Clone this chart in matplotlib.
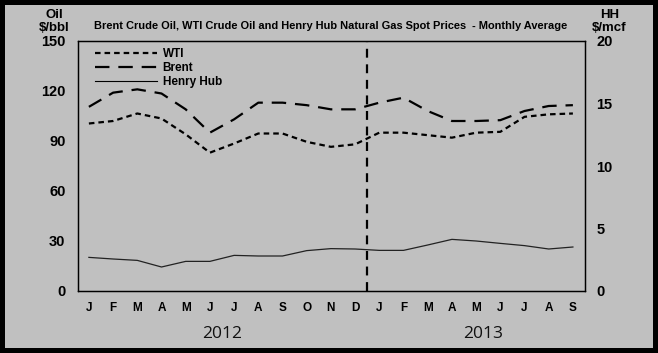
import numpy as np
import matplotlib
matplotlib.use("Agg")
import matplotlib.pyplot as plt
from matplotlib.patches import Rectangle

plt.rcParams['font.family'] = ['Liberation Sans', 'DejaVu Sans']

# Data (monthly averages, Jan 2012 - Sep 2013)
months = ['J', 'F', 'M', 'A', 'M', 'J', 'J', 'A', 'S', 'O', 'N', 'D',
          'J', 'F', 'M', 'A', 'M', 'J', 'J', 'A', 'S']
wti = [100.5, 102, 106.5, 103.5, 94, 83, 88.5, 94.5, 94.5, 89.5, 86.5, 88,
       95, 95, 93.5, 92, 95, 95.5, 104.5, 106, 106.5]
brent = [110.5, 119, 121, 118.5, 109, 95, 103, 113, 113, 111.5, 109, 109,
         113, 116, 108, 102, 102, 102.5, 108, 111, 111.5]
henry_hub = [2.69, 2.56, 2.45, 1.92, 2.37, 2.37, 2.85, 2.8, 2.8, 3.23, 3.39, 3.36,
             3.25, 3.25, 3.68, 4.13, 4.0, 3.81, 3.63, 3.36, 3.52]
years = ['2012', '2013']
oil_ticks = [0, 30, 60, 90, 120, 150]
hh_ticks = [0, 5, 10, 15, 20]

bg = '#c0c0c0'
W, H = 658, 353
fig = plt.figure(figsize=(W / 100, H / 100), dpi=100, facecolor='black')
# grey panel inside the black frame
fig.add_artist(Rectangle((5 / W, 5 / H), 1 - 10 / W, 1 - 10 / H,
                         transform=fig.transFigure, facecolor=bg,
                         edgecolor='none', zorder=-10))

ax = fig.add_axes([78 / W, 62 / H, 507 / W, 250 / H], facecolor=bg)
ax2 = ax.twinx()

x = np.arange(len(months))
ax.plot(x, wti, color='black', lw=1.6, dashes=(2.5, 1.8), label='WTI')
ax.plot(x, brent, color='black', lw=1.6, dashes=(6.5, 4), label='Brent')
ax.plot([], [], color='black', lw=0.8, label='Henry Hub')
ax2.plot(x, henry_hub, color='#222222', lw=0.9)

ax.axvline(11.5, color='black', lw=1.6, dashes=(4, 3))

ax.set_xlim(-0.45, 20.5)
ax.set_ylim(0, 150)
ax2.set_ylim(0, 20)
ax.set_yticks(oil_ticks)
ax2.set_yticks(hh_ticks)
ax.set_xticks(x)
ax.set_xticklabels(months)

for a in (ax, ax2):
    for s in a.spines.values():
        s.set_linewidth(0.9)
        s.set_color('black')
ax.tick_params(axis='y', length=0, pad=9, labelsize=10.5)
ax2.tick_params(axis='y', length=0, pad=8, labelsize=10.5)
ax.tick_params(axis='x', length=0, pad=8, labelsize=8.5)
for lab in ax.get_yticklabels() + ax2.get_yticklabels() + ax.get_xticklabels():
    lab.set_fontweight('bold')

leg = ax.legend(loc='upper left', frameon=False, fontsize=8.5,
                handlelength=5.2, handletextpad=0.5, labelspacing=0.18,
                borderaxespad=0.2, bbox_to_anchor=(0.02, 1.0))
for t in leg.get_texts():
    t.set_fontweight('bold')

fig.text(331 / W, 1 - 26 / H,
         'Brent Crude Oil, WTI Crude Oil and Henry Hub Natural Gas Spot Prices  - Monthly Average',
         ha='center', va='center', fontsize=7.9, fontweight='bold')
fig.text(54 / W, 1 - 21.5 / H, 'Oil\n$/bbl', ha='center', va='center', fontsize=9.5,
         fontweight='bold', linespacing=1.05)
fig.text(609.5 / W, 1 - 21.5 / H, 'HH\n$/mcf', ha='center', va='center', fontsize=9.5,
         fontweight='bold', linespacing=1.05)

for pos, yr in zip([5.5, 16.3], years):
    ax.text(pos, -0.171, yr, transform=ax.get_xaxis_transform(),
            ha='center', va='center', fontsize=12.5, family='Open Sans', color='#111111')

fig.savefig('out.png', dpi=100, facecolor='black')
